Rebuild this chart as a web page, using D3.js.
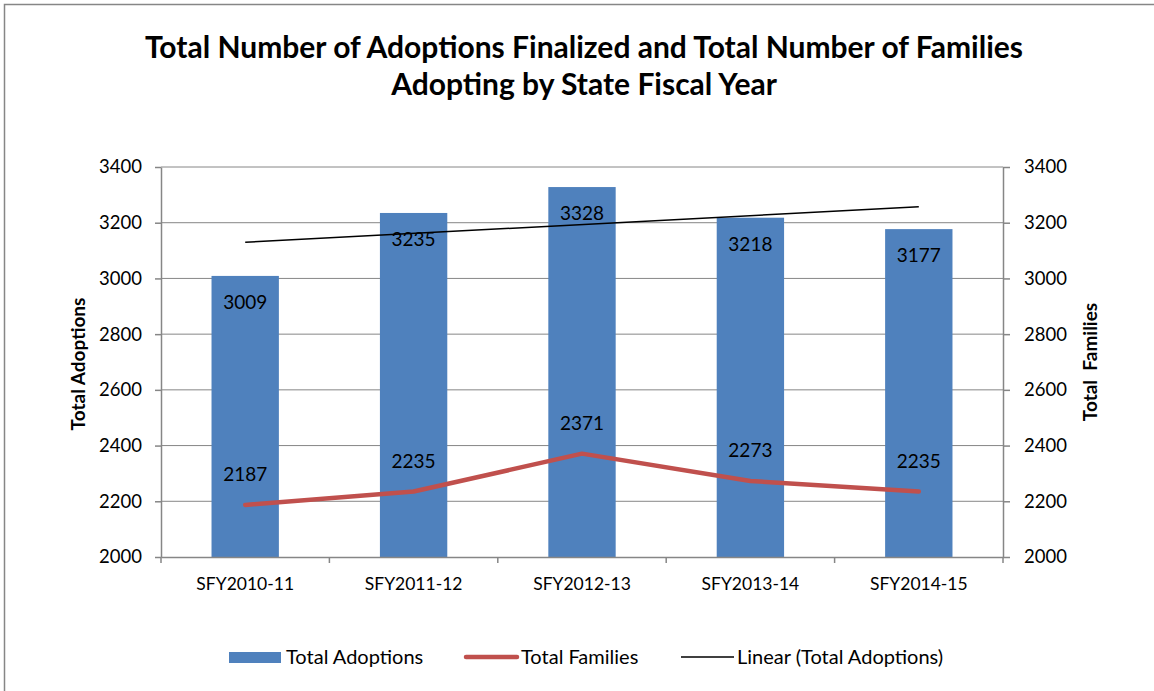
<!DOCTYPE html>
<html>
<head>
<meta charset="utf-8">
<script src="https://cdn.jsdelivr.net/npm/d3@7"></script>
<style>
  body { margin: 0; background: #fff; }
  svg text { font-family: Lato, "Open Sans", sans-serif; fill: #000; }
</style>
</head>
<body>
<div class="chart"></div>
<script>
const categories = ["SFY2010-11", "SFY2011-12", "SFY2012-13", "SFY2013-14", "SFY2014-15"];
const adoptions = [3009, 3235, 3328, 3218, 3177];
const families = [2187, 2235, 2371, 2273, 2235];
const yTicks = [2000, 2200, 2400, 2600, 2800, 3000, 3200, 3400];

const width = 1154, height = 691;
const plotLeft = 161, plotRight = 1003, plotTop = 167, plotBottom = 557;

const svg = d3.select(".chart").append("svg")
  .attr("width", width)
  .attr("height", height);

// chart frame (only left/top edges show in the picture)
svg.append("rect")
  .attr("x", 4.5).attr("y", 4.5)
  .attr("width", 1200).attr("height", 800)
  .attr("fill", "none")
  .attr("stroke", "#868686")
  .attr("stroke-width", 1.5);

const x = d3.scaleBand().domain(categories).range([plotLeft, plotRight]).paddingInner(0.6).paddingOuter(0.3);
const xc = d => x(d) + x.bandwidth() / 2;
const y = d3.scaleLinear().domain([2000, 3400]).range([plotBottom, plotTop]);
const y2 = d3.scaleLinear().domain([2000, 3400]).range([plotBottom, plotTop]);

// gridlines
svg.append("g")
  .selectAll("line")
  .data(yTicks.slice(1))
  .join("line")
  .attr("x1", plotLeft).attr("x2", plotRight)
  .attr("y1", d => y(d)).attr("y2", d => y(d))
  .attr("stroke", "#868686")
  .attr("stroke-width", 1);

// bars
svg.append("g")
  .selectAll("rect")
  .data(adoptions)
  .join("rect")
  .attr("x", (d, i) => x(categories[i]))
  .attr("y", d => y(d))
  .attr("width", x.bandwidth())
  .attr("height", d => y(2000) - y(d))
  .attr("fill", "#4F81BD");

svg.append("g")
  .selectAll("text")
  .data(adoptions)
  .join("text")
  .text(d => d)
  .attr("x", (d, i) => xc(categories[i]))
  .attr("y", d => y(d) + 33)
  .attr("text-anchor", "middle")
  .attr("font-size", 19);

// axes
const xAxis = d3.axisBottom(x).tickSize(6).tickSizeOuter(0);
const gx = svg.append("g").attr("transform", `translate(0,${plotBottom})`).call(xAxis);
gx.selectAll(".tick line").remove();
gx.selectAll(".tick text").attr("font-size", 17.5).attr("dy", "1.35em").style("font-family", "Lato");
gx.select(".domain").attr("stroke", "#868686").attr("stroke-width", 1.5);
// category separators
const sep = d3.range(categories.length + 1).map(i => plotLeft + i * (plotRight - plotLeft) / categories.length);
svg.append("g").selectAll("line").data(sep).join("line")
  .attr("x1", d => d).attr("x2", d => d)
  .attr("y1", plotBottom).attr("y2", plotBottom + 6)
  .attr("stroke", "#868686").attr("stroke-width", 1.5);

const gy = svg.append("g").attr("transform", `translate(${plotLeft},0)`)
  .call(d3.axisLeft(y).tickValues(yTicks).tickFormat(d3.format("d")).tickSize(6).tickSizeOuter(0).tickPadding(13));
const gy2 = svg.append("g").attr("transform", `translate(${plotRight},0)`)
  .call(d3.axisRight(y2).tickValues(yTicks).tickFormat(d3.format("d")).tickSize(7).tickSizeOuter(0).tickPadding(14));
[gy, gy2].forEach(g => {
  g.select(".domain").attr("stroke", "#868686").attr("stroke-width", 1.5);
  g.selectAll(".tick line").attr("stroke", "#868686").attr("stroke-width", 1.5);
  g.selectAll(".tick text").attr("font-size", 18.5).style("font-family", "Lato");
});

// families line
const line = d3.line()
  .x((d, i) => xc(categories[i]))
  .y(d => y2(d));
svg.append("path")
  .datum(families)
  .attr("d", line)
  .attr("fill", "none")
  .attr("stroke", "#C0504D")
  .attr("stroke-width", 4.5)
  .attr("stroke-linejoin", "round")
  .attr("stroke-linecap", "round");

svg.append("g")
  .selectAll("text")
  .data(families)
  .join("text")
  .text(d => d)
  .attr("x", (d, i) => xc(categories[i]))
  .attr("y", d => y2(d) - 24)
  .attr("text-anchor", "middle")
  .attr("font-size", 19);

// linear trendline of adoptions (least squares over category index)
const xs = adoptions.map((d, i) => i + 1);
const mx = d3.mean(xs), my = d3.mean(adoptions);
const slope = d3.sum(xs, (v, i) => (v - mx) * (adoptions[i] - my)) / d3.sum(xs, v => (v - mx) ** 2);
const trend = [1, categories.length].map(v => ({ i: v - 1, val: my + slope * (v - mx) }));
svg.append("line")
  .attr("x1", xc(categories[trend[0].i])).attr("y1", y(trend[0].val))
  .attr("x2", xc(categories[trend[1].i])).attr("y2", y(trend[1].val))
  .attr("stroke", "#000")
  .attr("stroke-width", 1.5);

// axis titles
svg.append("text")
  .text("Total Adoptions")
  .attr("transform", `translate(85,364) rotate(-90)`)
  .attr("text-anchor", "middle")
  .attr("font-size", 19)
  .attr("font-weight", "bold");

svg.append("text")
  .text("Total\u00a0\u00a0Families")
  .attr("transform", `translate(1097,362) rotate(-90)`)
  .attr("text-anchor", "middle")
  .attr("font-size", 19)
  .attr("font-weight", "bold");

// title
svg.append("text")
  .attr("text-anchor", "middle")
  .attr("font-size", 30)
  .attr("font-weight", "bold")
  .selectAll("tspan")
  .data(["Total Number of Adoptions Finalized and Total Number of Families", "Adopting by State Fiscal Year"])
  .join("tspan")
  .attr("x", 584)
  .attr("y", (d, i) => 58 + i * 37)
  .text(d => d);

// legend
const legend = svg.append("g").attr("transform", "translate(0,657)");
legend.append("rect").attr("x", 229).attr("y", -5).attr("width", 52).attr("height", 11).attr("fill", "#4F81BD");
legend.append("text").text("Total Adoptions").attr("x", 286).attr("y", 7).attr("font-size", 20);
legend.append("line").attr("x1", 466).attr("x2", 517).attr("y1", 0).attr("y2", 0)
  .attr("stroke", "#C0504D").attr("stroke-width", 4.5).attr("stroke-linecap", "round");
legend.append("text").text("Total Families").attr("x", 521).attr("y", 7).attr("font-size", 20);
legend.append("line").attr("x1", 681).attr("x2", 734).attr("y1", 0).attr("y2", 0)
  .attr("stroke", "#000").attr("stroke-width", 1.5);
legend.append("text").text("Linear (Total Adoptions)").attr("x", 737).attr("y", 7).attr("font-size", 20);
</script>
</body>
</html>
